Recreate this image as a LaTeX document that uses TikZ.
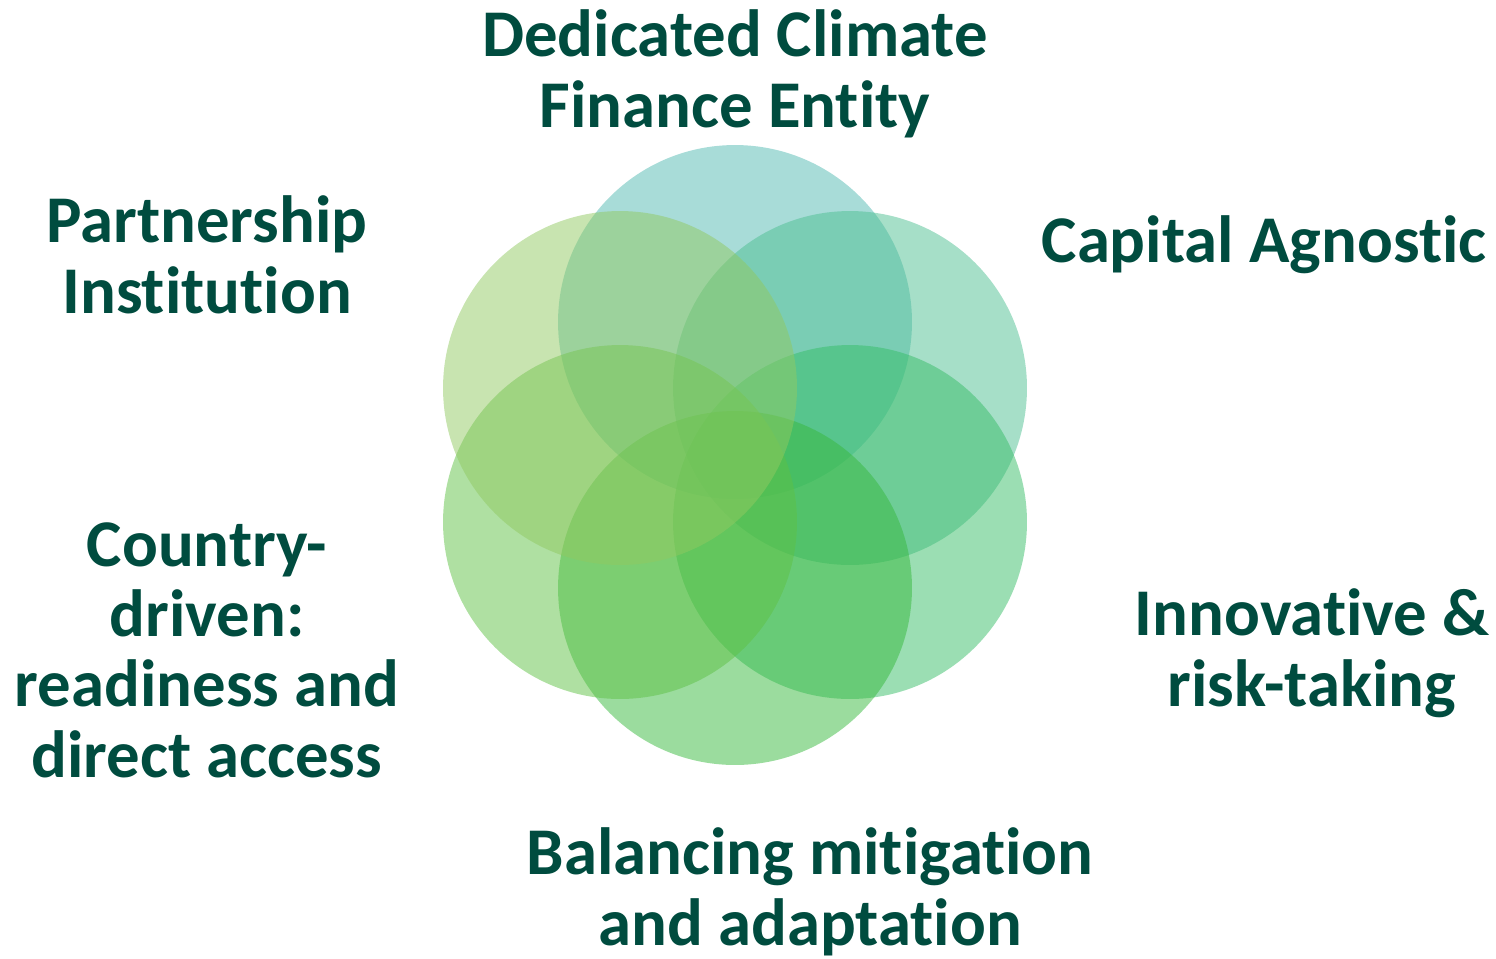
\documentclass[tikz,border=0pt]{standalone}
\usepackage{fontspec}
\setmainfont{Carlito}[Ligatures=NoCommon]
\usepackage{tikz}
\usetikzlibrary{positioning}

\definecolor{petal_top}{RGB}{81,185,177}
\definecolor{petal_ur}{RGB}{77,191,145}
\definecolor{petal_lr}{RGB}{55,189,103}
\definecolor{petal_bot}{RGB}{55,185,61}
\definecolor{petal_ll}{RGB}{95,193,69}
\definecolor{petal_ul}{RGB}{145,201,97}
\definecolor{labeltext}{RGB}{0,76,63}

\begin{document}
\begin{tikzpicture}[x=0.02cm,y=-0.02cm]
       \tikzstyle{petal}=[circle,draw=none,inner sep=0pt,minimum size=7.08cm,fill opacity=0.5]
       \tikzstyle{label}=[font=\bfseries\fontsize{38}{40}\selectfont,text=labeltext,align=center,inner sep=0pt,anchor=base]

       \useasboundingbox (0,0) rectangle (1496,958);

       \node[petal, fill=petal_top] (p_top) at (735,322) {};
       \node[petal, fill=petal_ur]  (p_ur)  at (850,388) {};
       \node[petal, fill=petal_lr]  (p_lr)  at (850,522) {};
       \node[petal, fill=petal_bot] (p_bot) at (735,588) {};
       \node[petal, fill=petal_ll]  (p_ll)  at (620,522) {};
       \node[petal, fill=petal_ul]  (p_ul)  at (620,388) {};

       % labels sit on the baseline of their last line
       \node[label] (l_top) at (735,127)  {Dedicated Climate\\Finance Entity};
       \node[label] (l_ur)  at (1264,262) {Capital Agnostic};
       \node[label] (l_lr)  at (1312,706) {Innovative \&\\risk-taking};
       \node[label] (l_bot) at (810,945)  {Balancing mitigation\\and adaptation};
       \node[label] (l_ll)  at (207,777)  {Country-\\driven:\\readiness and\\direct access};
       \node[label] (l_ul)  at (207,313)  {Partnership\\Institution};
\end{tikzpicture}
\end{document}
